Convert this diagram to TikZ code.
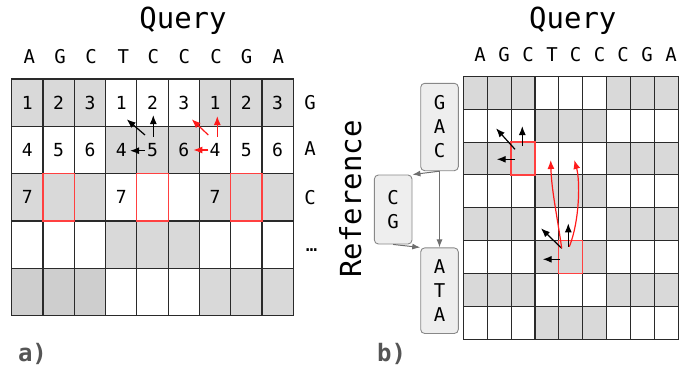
\documentclass[tikz,border=0pt]{standalone}
\usepackage{fontspec}
\setmainfont{DejaVu Sans Mono}
\usetikzlibrary{arrows.meta}
\definecolor{cellgray}{HTML}{D9D9D9}
\definecolor{cellgrayd}{HTML}{CECECE}
\definecolor{gridc}{HTML}{2A2A2A}
\definecolor{redarr}{HTML}{FF1A1A}
\definecolor{redbox}{HTML}{FF4040}
\definecolor{boxfill}{HTML}{EEEEEE}
\definecolor{boxdraw}{HTML}{888888}
\definecolor{conn}{HTML}{6E6E6E}
\definecolor{lab}{HTML}{555555}
\tikzset{
 title/.style={font=\fontsize{29}{30}\selectfont, anchor=base, inner sep=0pt},
 seq/.style={font=\fontsize{19}{20}\selectfont, inner sep=0pt},
 num/.style={font=\fontsize{18}{20}\selectfont, inner sep=0pt},
 gline/.style={draw=gridc, line width=1.1pt},
 redcell/.style={draw=redbox, line width=1.2pt},
 barr/.style={-{Latex[length=9pt,width=7pt]}, line width=1.2pt, black},
 rarr/.style={-{Latex[length=9pt,width=7pt]}, line width=1.2pt, redarr},
 refbox/.style={draw=boxdraw, fill=boxfill, rounded corners=4pt, line width=0.9pt,
   minimum width=37.6pt, align=center, font=\fontsize{19}{24}\selectfont, inner sep=0pt},
 carr/.style={-{Latex[length=8pt,width=6pt]}, line width=1pt, conn},
 panel/.style={font=\bfseries\fontsize{24}{26}\selectfont, text=lab, inner sep=0pt, anchor=base}
}
\begin{document}
\begin{tikzpicture}[x=1pt,y=-1pt]
\useasboundingbox (0,0) rectangle (694,373);
% ---------- left grid ----------
\begin{scope}[shift={(11.7,79)}, x=31.29pt, y=-47.33pt]
 \foreach \r in {0,...,4}{\foreach \c in {0,...,8}{
   \pgfmathtruncatemacro\blk{int(\c/3)+\r}
   \ifodd\blk\relax\else\fill[cellgray] (\c,\r) rectangle ++(1,1);\fi}}
 \fill[cellgrayd] (0,4) rectangle (3,5);
 \foreach \c in {1,...,8} \draw[gline] (\c,0) -- (\c,5);
 \foreach \r in {1,...,4} \draw[gline] (0,\r) -- (9,\r);
 \draw[gline] (0,0) rectangle (9,5);
 \draw[redcell] (1,2) rectangle (2,3);
 \draw[redcell] (4,2) rectangle (5,3);
 \draw[redcell] (7,2) rectangle (8,3);
 \foreach \c in {0,...,8}{
   \pgfmathtruncatemacro\va{mod(\c,3)+1}
   \pgfmathtruncatemacro\vb{mod(\c,3)+4}
   \node[num] (a0\c) at (\c+0.5,0.5) {\va};
   \node[num] (a1\c) at (\c+0.5,1.5) {\vb};}
 \node[num] (a20) at (0.5,2.5) {7};
 \node[num] (a23) at (3.5,2.5) {7};
 \node[num] (a26) at (6.5,2.5) {7};
\end{scope}
\node[title] (qa) at (183,28) {Query};
\foreach \x/\l [count=\i] in {29.3/A,60/G,91/C,123.3/T,153.3/C,184.3/C,216/C,246.7/G,278.3/A}
  \node[seq] (ta\i) at (\x,57) {\l};
\node[seq] (ra1) at (310,102.7) {G};
\node[seq] (ra2) at (310,149) {A};
\node[seq] (ra3) at (310,197.3) {C};
\node[seq] (ra4) at (311.7,250) {…};
% left arrows
\coordinate (lb1s) at (145,135);   \coordinate (lb1e) at (126.7,119.3);
\coordinate (lb2s) at (153.3,136.7); \coordinate (lb2e) at (153.3,115);
\coordinate (lb3s) at (145,150.7); \coordinate (lb3e) at (130,150.7);
\coordinate (lr1s) at (208.3,135); \coordinate (lr1e) at (191.7,119.3);
\coordinate (lr2s) at (217.3,136.7); \coordinate (lr2e) at (217.3,116);
\coordinate (lr3s) at (208.3,150); \coordinate (lr3e) at (193.3,150);
\draw[barr] (lb1s) -- (lb1e);
\draw[barr] (lb2s) -- (lb2e);
\draw[barr] (lb3s) -- (lb3e);
\draw[rarr] (lr1s) -- (lr1e);
\draw[rarr] (lr2s) -- (lr2e);
\draw[rarr] (lr3s) -- (lr3e);
\node[panel] (pa) at (32.5,361.5) {a)};
% ---------- right grid ----------
\begin{scope}[shift={(463.3,76.3)}, x=23.89pt, y=-32.875pt]
 \foreach \r in {0,...,7}{\foreach \c in {0,...,8}{
   \pgfmathtruncatemacro\blk{int(\c/3)+\r}
   \ifodd\blk\relax\else\fill[cellgray] (\c,\r) rectangle ++(1,1);\fi}}
 \foreach \c in {1,...,8} \draw[gline] (\c,0) -- (\c,8);
 \foreach \r in {1,...,7} \draw[gline] (0,\r) -- (9,\r);
 \draw[gline] (0,0) rectangle (9,8);
 \draw[redcell] (2,2) rectangle (3,3);
 \draw[redcell] (4,5) rectangle (5,6);
\end{scope}
\node[title] (qb) at (572.8,28.5) {Query};
\foreach \x/\l [count=\i] in {480/A,504.2/G,528.2/C,552/T,575.5/C,599.5/C,623.2/C,647.2/G,671/A}
  \node[seq] (tb\i) at (\x,55) {\l};
\node[title, rotate=90] (refl) at (361,199) {Reference};
% reference graph
\node[refbox, minimum height=87.4pt] (gac) at (439.5,127) {G\\A\\C};
\node[refbox, minimum height=69pt] (cg) at (393.2,209.5) {C\\G};
\node[refbox, minimum height=85.6pt] (ata) at (439.5,290.7) {A\\T\\A};
\draw[carr] (gac.south) -- (cg.north east);
\draw[carr] (gac.south) -- (ata.north);
\draw[carr] (cg.south) -- (ata.north west);
% right arrows
\coordinate (tb1s) at (515,149.3);   \coordinate (tb1e) at (496,128.3);
\coordinate (tb2s) at (522.3,146);   \coordinate (tb2e) at (522.3,126);
\coordinate (tb3s) at (515,159.3);   \coordinate (tb3e) at (496.7,159.3);
\coordinate (bb1s) at (561.7,248.3); \coordinate (bb1e) at (541,228.3);
\coordinate (bb2s) at (568.3,246.7); \coordinate (bb2e) at (568.3,223.3);
\coordinate (bb3s) at (560,259.3);   \coordinate (bb3e) at (542.7,259.3);
\coordinate (rc1s) at (561.7,248.3); \coordinate (rc1e) at (550.7,160);
\coordinate (rc2s) at (569.3,246.7); \coordinate (rc2e) at (574.3,160);
\draw[barr] (tb1s) -- (tb1e);
\draw[barr] (tb2s) -- (tb2e);
\draw[barr] (tb3s) -- (tb3e);
\draw[barr] (bb1s) -- (bb1e);
\draw[barr] (bb2s) -- (bb2e);
\draw[barr] (bb3s) -- (bb3e);
\draw[rarr] (rc1s) .. controls (557,215) and (551.5,190) .. (rc1e);
\draw[rarr] (rc2s) .. controls (580,220) and (580,180) .. (rc2e);
\node[panel] (pb) at (391.5,361.5) {b)};
\end{tikzpicture}
\end{document}
